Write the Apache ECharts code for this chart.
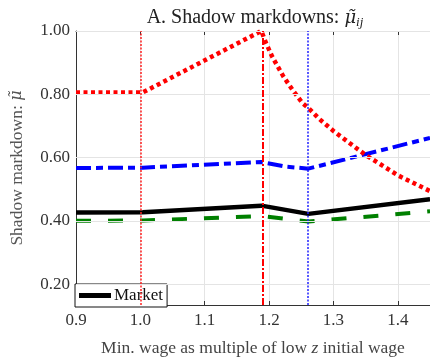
<!DOCTYPE html>
<html>
<head>
<meta charset="utf-8">
<script src="https://cdn.jsdelivr.net/npm/echarts@6/dist/echarts.min.js"></script>
<style>
  html, body { margin: 0; padding: 0; background: #fff; }
  #chart { width: 430px; height: 362px; }
</style>
</head>
<body>
<div id="chart"></div>
<script>
// x positions (min wage as multiple of low z initial wage) and shadow markdowns
var marketX = [0.9, 1.004, 1.188, 1.261, 1.45];
var marketY = [0.426, 0.427, 0.448, 0.422, 0.468];

var greenX = [0.9, 1.004, 1.188, 1.261, 1.45];
var greenY = [0.400, 0.401, 0.415, 0.398, 0.430];

var blueX = [0.9, 1.004, 1.188, 1.227, 1.261, 1.45];
var blueY = [0.567, 0.568, 0.586, 0.571, 0.565, 0.662];

var redX = [0.9, 1.004, 1.188, 1.195, 1.205, 1.222, 1.237, 1.252, 1.261, 1.278, 1.3, 1.35, 1.4, 1.45];
var redY = [0.806, 0.806, 1.0, 0.963, 0.918, 0.857, 0.812, 0.772, 0.757, 0.722, 0.684, 0.608, 0.544, 0.494];

// vertical reference lines
var vlineRedDot = 1.004;
var vlineRedDashDot = 1.188;
var vlineBlueDot = 1.261;

var yTicks = [0.2, 0.4, 0.6, 0.8, 1.0];

var FONT = "Liberation Serif";
var MUFONT = "DejaVu Serif";
var AXIS = "#333";

function pairs(xs, ys) {
  return xs.map(function (x, i) { return [x, ys[i]]; });
}

var chart = echarts.init(document.getElementById("chart"));

chart.setOption({
  animation: false,
  textStyle: { fontFamily: FONT },
  title: {
    text: "A. Shadow markdowns: {mu|μ̃}{sub|ij}",
    left: 250,
    textAlign: "center",
    top: 2,
    textStyle: {
      fontFamily: FONT,
      fontWeight: "normal",
      fontSize: 20,
      color: "#222",
      rich: {
        mu: { fontFamily: MUFONT, fontStyle: "italic", fontSize: 18, color: "#222" },
        sub: { fontFamily: FONT, fontStyle: "italic", fontSize: 13, color: "#222", padding: [9, 0, 0, 0] }
      }
    }
  },
  grid: { left: 66, right: 0, top: 31, bottom: 44 },
  legend: {
    data: ["Market"],
    left: 75,
    top: 284,
    padding: [3, 4, 3, 4],
    backgroundColor: "#fff",
    borderColor: "#111",
    borderWidth: 1,
    borderRadius: 0,
    itemWidth: 32,
    itemHeight: 5,
    icon: "rect",
    textStyle: { fontFamily: FONT, fontSize: 17, color: "#111", padding: [0, 0, 0, -2] }
  },
  xAxis: [{
    type: "value",
    min: 0.9,
    max: 1.45,
    interval: 0.1,
    name: "Min. wage as multiple of low {it|z} initial wage",
    nameLocation: "middle",
    nameGap: 34,
    nameTextStyle: {
      fontFamily: FONT, fontSize: 17.5, color: "#444",
      rich: { it: { fontFamily: FONT, fontStyle: "italic", fontSize: 17.5, color: "#444" } }
    },
    axisLine: { show: true, onZero: false, lineStyle: { color: AXIS, width: 1 } },
    axisTick: { show: true, inside: true, length: 4, lineStyle: { color: AXIS } },
    axisLabel: {
      fontFamily: FONT, fontSize: 17, color: "#333", margin: 7,
      showMaxLabel: false,
      formatter: function (v) { return v.toFixed(1); }
    },
    splitLine: { show: true, lineStyle: { color: "#e4e4e4", width: 1 } }
  }, {
    type: "value",
    position: "top",
    min: 0.9,
    max: 1.45,
    interval: 0.1,
    axisLine: { show: true, onZero: false, lineStyle: { color: AXIS, width: 1 } },
    axisTick: { show: true, inside: true, length: 4, lineStyle: { color: AXIS } },
    axisLabel: { show: false },
    splitLine: { show: false }
  }],
  yAxis: [{
    type: "value",
    min: 0.134,
    max: 1.0,
    name: "Shadow markdown: {mu|μ̃}",
    nameLocation: "middle",
    nameGap: 50,
    nameRotate: 90,
    nameTextStyle: {
      fontFamily: FONT, fontSize: 17.5, color: "#555",
      rich: { mu: { fontFamily: MUFONT, fontStyle: "italic", fontSize: 16, color: "#555" } }
    },
    axisLine: { show: true, onZero: false, lineStyle: { color: AXIS, width: 1 } },
    axisTick: { show: true, inside: true, length: 4, customValues: yTicks, lineStyle: { color: AXIS } },
    axisLabel: {
      fontFamily: FONT, fontSize: 17, color: "#333", margin: 6,
      customValues: yTicks,
      formatter: function (v) { return v.toFixed(2); }
    },
    splitLine: { show: false }
  }],
  series: [{
    name: "grid",
    type: "line",
    data: [],
    z: 0,
    markLine: {
      silent: true,
      symbol: ["none", "none"],
      label: { show: false },
      lineStyle: { color: "#e4e4e4", width: 1, type: "solid" },
      data: yTicks.map(function (v) { return { yAxis: v }; })
    }
  }, {
    name: "Market",
    type: "line",
    data: pairs(marketX, marketY),
    showSymbol: false,
    itemStyle: { color: "#000" },
    lineStyle: { color: "#000", width: 4.5 },
    z: 3
  }, {
    name: "Green",
    type: "line",
    data: pairs(greenX, greenY),
    showSymbol: false,
    itemStyle: { color: "#008000" },
    lineStyle: { color: "#008000", width: 4, type: [15, 17], cap: "butt" },
    z: 2
  }, {
    name: "Blue",
    type: "line",
    data: pairs(blueX, blueY),
    showSymbol: false,
    itemStyle: { color: "#0000ff" },
    lineStyle: { color: "#0000ff", width: 4, type: [15, 5, 7, 5], cap: "butt" },
    z: 2
  }, {
    name: "Red",
    type: "line",
    data: pairs(redX, redY),
    showSymbol: false,
    itemStyle: { color: "#ff0000" },
    lineStyle: { color: "#ff0000", width: 4.5, type: [4, 3.5], cap: "butt" },
    z: 2
  }, {
    name: "vlines",
    type: "line",
    data: [],
    z: 5,
    markLine: {
      silent: true,
      symbol: ["none", "none"],
      label: { show: false },
      data: [
        { xAxis: vlineRedDot, lineStyle: { color: "#ff2020", width: 1.5, type: [2, 1.5] } },
        { xAxis: vlineRedDashDot, lineStyle: { color: "#ff0000", width: 2, type: [7, 2, 2, 2] } },
        { xAxis: vlineBlueDot, lineStyle: { color: "#2020ff", width: 1.5, type: [2, 1.5] } }
      ]
    }
  }]
});
</script>
</body>
</html>
